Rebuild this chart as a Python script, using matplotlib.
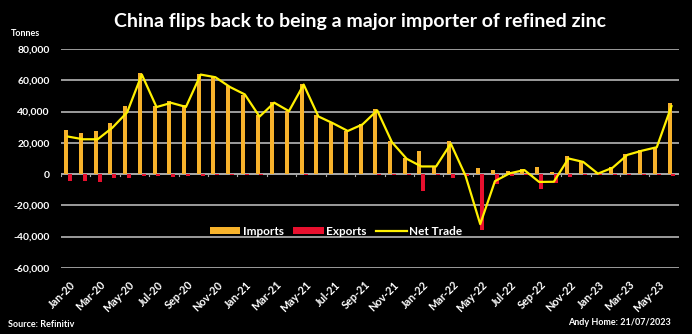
import matplotlib.pyplot as plt
import numpy as np

# monthly China refined zinc trade, tonnes
months = ['Jan-20', 'Feb-20', 'Mar-20', 'Apr-20', 'May-20', 'Jun-20', 'Jul-20', 'Aug-20',
          'Sep-20', 'Oct-20', 'Nov-20', 'Dec-20', 'Jan-21', 'Feb-21', 'Mar-21', 'Apr-21',
          'May-21', 'Jun-21', 'Jul-21', 'Aug-21', 'Sep-21', 'Oct-21', 'Nov-21', 'Dec-21',
          'Jan-22', 'Feb-22', 'Mar-22', 'Apr-22', 'May-22', 'Jun-22', 'Jul-22', 'Aug-22',
          'Sep-22', 'Oct-22', 'Nov-22', 'Dec-22', 'Jan-23', 'Feb-23', 'Mar-23', 'Apr-23',
          'May-23', 'Jun-23']
imports = [28200, 26300, 27400, 32900, 43300, 64800, 43500, 46700,
           44000, 64300, 62600, 56200, 50800, 38000, 46000, 40300,
           57800, 37600, 32900, 27800, 31800, 41400, 21200, 10400,
           14800, 5000, 21400, 400, 3600, 2600, 2100, 3000,
           4500, 1100, 11700, 8500, 500, 4300, 12800, 15500,
           17600, 45200]
exports = [-4300, -4500, -5300, -2800, -2500, -1500, -1500, -2000,
           -1000, -1500, -600, -500, -300, -300, -200, -200,
           -300, -200, -200, -200, -200, -300, -500, -500,
           -10600, -300, -2700, -1500, -35600, -6400, -1500, -400,
           -9600, -5700, -2100, -700, -300, -500, -500, -500,
           -500, -1500]
net_trade = [24000, 22300, 22300, 29700, 39500, 63700, 42900, 45600,
             43000, 63700, 62000, 55700, 51000, 36800, 45700, 40300,
             57300, 36900, 32500, 27600, 31800, 40800, 20400, 9800,
             4900, 4900, 19500, -1000, -32000, -4500, 500, 2600,
             -5000, -4900, 10000, 7800, 300, 4100, 12300, 15000,
             17200, 43500]
yticks = [-60000, -40000, -20000, 0, 20000, 40000, 60000, 80000]

fnt = 'Lato'
x = np.arange(len(months))

fig = plt.figure(figsize=(6.92, 3.34), dpi=100, facecolor='black')
ax = fig.add_axes([0.088, 0.198, 0.893, 0.655], facecolor='black')

h_imp = ax.bar(x - 0.13, imports, width=0.27, color='#F7B22B', label='Imports', zorder=3)
h_exp = ax.bar(x + 0.13, exports, width=0.27, color='#E8102E', label='Exports', zorder=3)
h_net, = ax.plot(x, net_trade, color='#FFF000', lw=1.6, label='Net Trade', zorder=4)

ax.set_xlim(-0.5, len(months) - 0.5)
ax.set_ylim(-60000, 80000)
ax.set_yticks(yticks)
ax.set_yticklabels([f'{v:,}' for v in yticks], color='white', fontsize=7.5,
                   fontweight='bold', family=fnt)
ax.tick_params(axis='y', length=0, pad=8)
ax.grid(axis='y', color='#a8a8a8', lw=1.3, zorder=0)

ax.set_xticks(x[::2] + 0.1)
ax.set_xticklabels(months[::2], rotation=45, ha='right', rotation_mode='anchor',
                   color='white', fontsize=7.8, fontweight='bold', family=fnt)
ax.tick_params(axis='x', length=0, pad=8)
# small tick marks on the zero line
for b in np.arange(-0.5, len(months), 2):
    ax.plot([b, b], [0, -1500], color='#a8a8a8', lw=0.8, zorder=2)
ax.axhline(0, color='#a8a8a8', lw=1.3, zorder=2)
for s in ax.spines.values():
    s.set_visible(False)

leg = ax.legend([h_imp, h_exp, h_net], ['Imports', 'Exports', 'Net Trade'],
                loc='center', bbox_to_anchor=(0.445, 0.167), ncol=3, frameon=False,
                handlelength=2.6, handleheight=0.5, columnspacing=0.8, handletextpad=0.2,
                prop={'family': fnt, 'weight': 'bold', 'size': 8.5})
for t in leg.get_texts():
    t.set_color('white')

fig.text(0.52, 0.935, 'China flips back to being a major importer of refined zinc',
         ha='center', va='center', color='white', fontsize=14, fontweight='bold', family=fnt)
fig.text(0.015, 0.9, 'Tonnes', ha='left', va='center', color='white', fontsize=6.5,
         fontweight='bold', family=fnt)
fig.text(0.012, 0.027, 'Source: Refinitiv', ha='left', va='center', color='white',
         fontsize=6.5, fontweight='bold', family=fnt)
fig.text(0.97, 0.035, 'Andy Home: 21/07/2023', ha='right', va='center', color='white',
         fontsize=6.5, fontweight='bold', family=fnt)

fig.savefig('out.png', dpi=100, facecolor='black')
